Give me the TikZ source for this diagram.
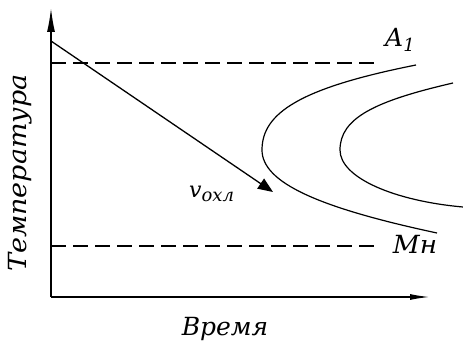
\documentclass[tikz,border=0pt]{standalone}
\usepackage{fontspec}
\setmainfont{Liberation Serif}
\newfontfamily\rusit{DejaVu Serif}[ItalicFont={DejaVu Serif Italic}]
\usetikzlibrary{arrows.meta}
\newcommand\wxs[2][1.0]{\scalebox{#1}[1]{#2}}
\begin{document}
\begin{tikzpicture}[x=1pt,y=1pt,
  axisline/.style={line width=1.5pt},
  dashline/.style={line width=1.3pt, dash pattern=on 15pt off 7pt},
  curveline/.style={line width=1.2pt},
  lbl/.style={font=\fontsize{25}{27}\selectfont\rusit\itshape, inner sep=0pt}]
\useasboundingbox (0,0) rectangle (463,343);
\coordinate (O) at (51,46);
\coordinate (ytop) at (51,335);
\coordinate (xend) at (430,46);
\draw[axisline, -{Latex[length=24pt,width=8pt]}] (O) -- (ytop);
\draw[axisline, -{Latex[length=20pt,width=6pt]}] (O) -- (xend);
\coordinate (a1s) at (51,280);
\coordinate (a1e) at (377,280);
\coordinate (mns) at (51,97);
\coordinate (mne) at (377,97);
\draw[dashline] (a1s) -- (a1e);
\draw[dashline] (mns) -- (mne);
\coordinate (cs) at (51,302);
\coordinate (ce) at (273,151);
\draw[line width=1.3pt, -{Triangle[length=15pt,width=12pt]}] (cs) -- (ce);
\draw[curveline] (416,278) .. controls (300,255) and (262,230) .. (262,193)
                           .. controls (262,160) and (320,135) .. (437,110);
\draw[curveline] (453,260) .. controls (375,242) and (340,225) .. (340,193)
                           .. controls (340,165) and (395,142) .. (463,136);
\node[lbl, anchor=base west] (A1) at (385,296) {A{\fontsize{18}{18}\selectfont\raisebox{-5pt}{1}}};
\node[lbl, anchor=base] (Mn) at (415,90) {\wxs[1.05]{Мн}};
\node[font=\fontsize{22}{24}\selectfont\rusit\itshape, inner sep=0pt, anchor=base west] (v) at (189,145) {v{\fontsize{18}{18}\selectfont\raisebox{-4pt}{охл}}};
\node[lbl, anchor=base] (t) at (225,8) {Время};
\node[lbl, rotate=90] (T) at (20,170) {\wxs[1.08]{Температура}};
\end{tikzpicture}
\end{document}
